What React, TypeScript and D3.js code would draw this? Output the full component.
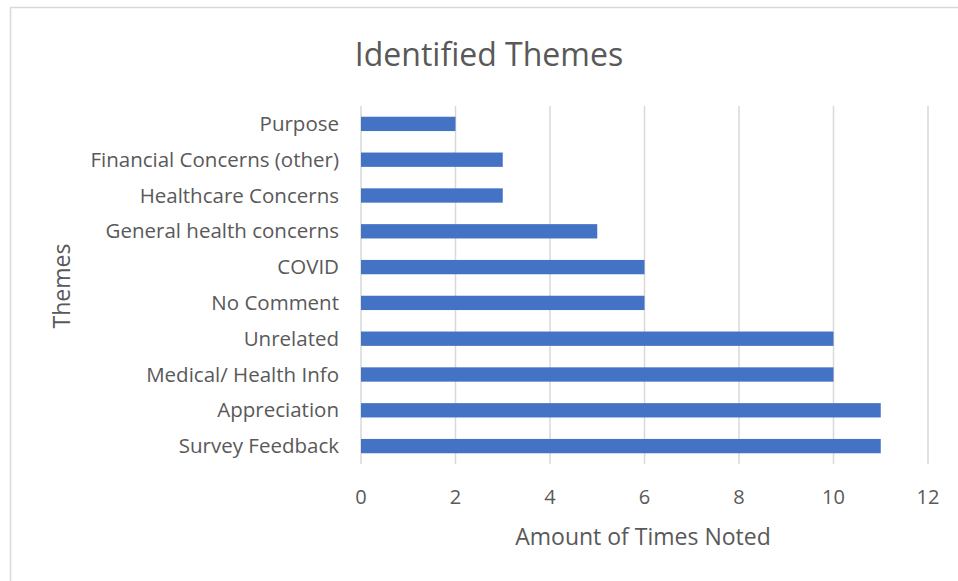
import React from "react";
import * as d3 from "d3";

const categories = [
  "Purpose",
  "Financial Concerns (other)",
  "Healthcare Concerns",
  "General health concerns",
  "COVID",
  "No Comment",
  "Unrelated",
  "Medical/ Health Info",
  "Appreciation",
  "Survey Feedback",
];
const values = [2, 3, 3, 5, 6, 6, 10, 10, 11, 11];
const xTicks = [0, 2, 4, 6, 8, 10, 12];
const title = "Identified Themes";
const xTitle = "Amount of Times Noted";
const yTitle = "Themes";

const W = 958;
const H = 581;
const plot = { left: 361, right: 928, top: 106, bottom: 464 };
const FONT = "'Open Sans', Lato, sans-serif";
const TEXT = "#595959";

export default function App() {
  const x = d3.scaleLinear().domain([0, 12]).range([plot.left, plot.right]);
  const y = d3
    .scaleBand<string>()
    .domain(categories)
    .range([plot.top, plot.bottom])
    .paddingInner(0.6)
    .paddingOuter(0.3);

  return (
    <svg
      width={W}
      height={H}
      style={{ position: "absolute", left: 0, top: 0, display: "block", background: "#fff" }}
    >
      <rect x={10.5} y={7.5} width={W} height={H + 20} fill="#fff" stroke="#d9d9d9" strokeWidth={1.5} />
      <text x={489} y={66} textAnchor="middle" fontFamily={FONT} fontSize={32} fill={TEXT}>
        {title}
      </text>
      {xTicks.map((t) => (
        <line
          key={"g" + t}
          x1={x(t)}
          x2={x(t)}
          y1={plot.top}
          y2={plot.bottom}
          stroke="#d9d9d9"
          strokeWidth={1.5}
        />
      ))}
      {categories.map((c, i) => (
        <rect
          key={c}
          x={x(0)}
          y={y(c)}
          width={x(values[i]) - x(0)}
          height={y.bandwidth()}
          fill="#4472C4"
        />
      ))}
      {categories.map((c) => (
        <text
          key={"l" + c}
          x={339}
          y={(y(c) as number) + y.bandwidth() / 2}
          dy="0.35em"
          textAnchor="end"
          fontFamily={FONT}
          fontSize={20.5}
          fill={TEXT}
        >
          {c}
        </text>
      ))}
      {xTicks.map((t) => (
        <text
          key={"t" + t}
          x={x(t)}
          y={497}
          dy="0.35em"
          textAnchor="middle"
          fontFamily={FONT}
          fontSize={20}
          fill={TEXT}
        >
          {t}
        </text>
      ))}
      <text x={643} y={537} dy="0.35em" textAnchor="middle" fontFamily={FONT} fontSize={23} fill={TEXT}>
        {xTitle}
      </text>
      <text
        transform={`translate(62,286) rotate(-90)`}
        dy="0.35em"
        textAnchor="middle"
        fontFamily={FONT}
        fontSize={23}
        fill={TEXT}
      >
        {yTitle}
      </text>
    </svg>
  );
}
